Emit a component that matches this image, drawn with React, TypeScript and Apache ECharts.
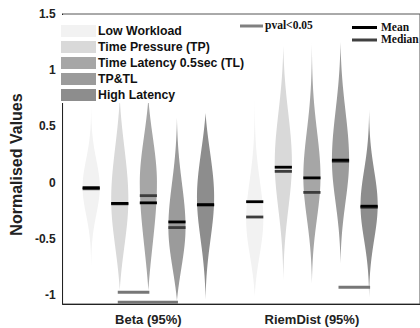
import React, { useEffect, useRef } from 'react';
import * as echarts from 'echarts';

// ---- Data ----
const conditions = ['Low Workload', 'Time Pressure (TP)', 'Time Latency 0.5sec (TL)', 'TP&TL', 'High Latency'];
const measures = ['Beta (95%)', 'RiemDist (95%)'];
const measureCenters = [3, 8.72];
const positions = [1, 2, 3, 4, 5, 6.72, 7.72, 8.72, 9.72, 10.72];
const conditionIndex = [0, 1, 2, 3, 4, 0, 1, 2, 3, 4];
const violinTop = [0.72, 0.75, 0.75, 0.58, 0.62, 0.86, 1.22, 1.25, 1.25, 0.65];
const violinBottom = [-0.78, -0.96, -0.96, -1.05, -1.04, -1.01, -0.87, -0.9, -0.72, -1.02];
const violinMode = [-0.04, -0.15, 0.0, -0.4, -0.13, -0.33, 0.18, 0.05, 0.2, -0.2];
const spreadUp = [0.24, 0.42, 0.36, 0.38, 0.36, 0.34, 0.42, 0.4, 0.42, 0.3];
const spreadDown = [0.24, 0.38, 0.48, 0.32, 0.36, 0.3, 0.4, 0.36, 0.36, 0.3];
const means = [-0.045, -0.185, -0.18, -0.35, -0.196, -0.17, 0.137, 0.042, 0.2, -0.21];
const medians = [-0.055, -0.19, -0.116, -0.4, -0.2, -0.306, 0.1, -0.087, 0.19, -0.22];
const pvalFrom = [2, 2, 9.72];
const pvalTo = [3, 4, 10.72];
const pvalY = [-0.976, -1.065, -0.93];
const yTicks = [-1, -0.5, 0, 0.5, 1, 1.5];

// ---- Styles ----
const colors = ['#f2f2f2', '#d9d9d9', '#a6a6a6', '#9b9b9b', '#8d8d8d'];
const HALF_W = 0.3;
const SANS = 'Liberation Sans, Arial, sans-serif';
const SERIF = 'Liberation Serif, Times New Roman, serif';

export default function App() {
  const ref = useRef<HTMLDivElement>(null);
  useEffect(() => {
    if (!ref.current) return;
    const chart = echarts.init(ref.current, undefined, { renderer: 'svg' });

    const violinData = positions.map((p, i) => [
      p, violinTop[i], violinBottom[i], violinMode[i], conditionIndex[i], spreadUp[i], spreadDown[i],
    ]);
    const meanData = positions.map((p, i) => [p, means[i]]);
    const medianData = positions.map((p, i) => [p, medians[i]]);
    const pvalData = pvalFrom.map((a, i) => [a, pvalTo[i], pvalY[i]]);

    const lineItem = (color: string) => (params: any, api: any) => {
      const x = api.value(0);
      const v = api.value(1);
      const l = api.coord([x - HALF_W, v]);
      const r = api.coord([x + HALF_W, v]);
      return {
        type: 'rect',
        shape: { x: l[0], y: l[1] - 1.4, width: r[0] - l[0], height: 2.8 },
        style: { fill: color },
      };
    };

    const legendItems: any[] = [
      { type: 'rect', shape: { x: 56, y: 15, width: 190, height: 88 }, style: { fill: '#ffffff' }, z: 50 },
    ];
    conditions.forEach((c, i) => {
      const cy = 31 + i * 16;
      legendItems.push({ type: 'rect', shape: { x: 61, y: cy - 6, width: 35, height: 12 }, style: { fill: colors[i] }, z: 51 });
      legendItems.push({
        type: 'text', x: 98, y: cy, z: 51,
        style: { text: c, fill: '#111', font: `bold 12.3px ${SANS}`, verticalAlign: 'middle' },
      });
    });
    const topLegend = [
      { color: '#808080', y: 26, x1: 240, x2: 263, tx: 265, label: 'pval<0.05' },
      { color: '#000000', y: 27.5, x1: 352, x2: 377, tx: 381, label: 'Mean' },
      { color: '#404040', y: 40, x1: 352, x2: 377, tx: 381, label: 'Median' },
    ];
    topLegend.forEach((t) => {
      legendItems.push({ type: 'line', shape: { x1: t.x1, y1: t.y, x2: t.x2, y2: t.y }, style: { stroke: t.color, lineWidth: 3 }, z: 51 });
      legendItems.push({
        type: 'text', x: t.tx, y: t.y - 1, z: 51,
        style: { text: t.label, fill: '#111', font: `bold 11.5px ${SERIF}`, verticalAlign: 'middle' },
      });
    });

    chart.setOption({
      animation: false,
      grid: { left: 54, top: 14, width: 375, height: 290, show: true, borderColor: '#555', borderWidth: 1 },
      xAxis: {
        type: 'value', min: 0, max: 12.5,
        axisLine: { show: true, onZero: false, lineStyle: { color: '#222', width: 1 } },
        axisTick: { show: false },
        splitLine: { show: false },
        axisLabel: {
          customValues: measureCenters,
          margin: 9,
          formatter: (v: number) => {
            let best = 0;
            measureCenters.forEach((m, i) => { if (Math.abs(m - v) < Math.abs(measureCenters[best] - v)) best = i; });
            return measures[best];
          },
          color: '#222', fontFamily: SANS, fontWeight: 'bold', fontSize: 13,
        },
      },
      yAxis: {
        type: 'value', min: -1.08, max: 1.5,
        name: 'Normalised Values', nameLocation: 'middle', nameGap: 33,
        nameTextStyle: { color: '#222', fontFamily: SANS, fontWeight: 'bold', fontSize: 16, padding: [0, 11, 0, 0] },
        axisLine: { show: true, onZero: false, lineStyle: { color: '#222', width: 1 } },
        axisTick: { show: false },
        splitLine: { show: false },
        axisLabel: {
          customValues: yTicks,
          margin: 7,
          formatter: (v: number) => String(v),
          color: '#222', fontFamily: SANS, fontWeight: 'bold', fontSize: 12,
        },
      },
      series: [
        {
          type: 'custom',
          data: violinData,
          renderItem: (params: any, api: any) => {
            const x = api.value(0);
            const top = api.value(1);
            const bot = api.value(2);
            const mode = api.value(3);
            const ci = api.value(4);
            const sUp = api.value(5);
            const sDown = api.value(6);
            const N = 100;
            const right: number[][] = [];
            const left: number[][] = [];
            for (let i = 0; i <= N; i++) {
              const v = top - ((top - bot) * i) / N;
              const above = v >= mode;
              const d = above ? v - mode : mode - v;
              const t = above ? d / (top - mode) : d / (mode - bot);
              const s = above ? sUp : sDown;
              const w = HALF_W * Math.exp(-0.5 * (d / s) * (d / s)) * (1 - Math.pow(t, 6));
              right.push(api.coord([x + w, v]));
              left.push(api.coord([x - w, v]));
            }
            const pts = right.concat(left.reverse());
            return { type: 'polygon', shape: { points: pts }, style: { fill: colors[ci] } };
          },
          z: 2,
        },
        { type: 'custom', data: medianData, renderItem: lineItem('#3c3c3c'), z: 3 },
        { type: 'custom', data: meanData, renderItem: lineItem('#000000'), z: 4 },
        {
          type: 'custom',
          data: pvalData,
          renderItem: (params: any, api: any) => {
            const a = api.coord([api.value(0), api.value(2)]);
            const b = api.coord([api.value(1), api.value(2)]);
            return {
              type: 'rect',
              shape: { x: a[0] - 2, y: a[1] - 1.5, width: b[0] - a[0] + 3, height: 3 },
              style: { fill: '#777777' },
            };
          },
          z: 5,
        },
      ],
      graphic: legendItems,
    });
    return () => chart.dispose();
  }, []);
  return <div ref={ref} style={{ position: 'absolute', left: 0, top: 0, width: 420, height: 328 }} />;
}
